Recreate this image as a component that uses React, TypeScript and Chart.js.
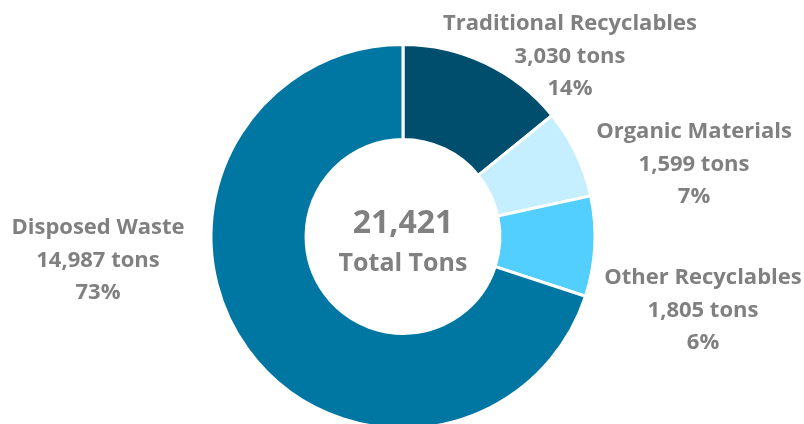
import React, { useEffect, useRef } from "react";
import { Chart, registerables } from "chart.js";

Chart.register(...registerables);

const categories = ["Traditional Recyclables", "Organic Materials", "Other Recyclables", "Disposed Waste"];
const tons = [3030, 1599, 1805, 14987];
const tonLabels = ["3,030 tons", "1,599 tons", "1,805 tons", "14,987 tons"];
const percentLabels = ["14%", "7%", "6%", "73%"];
const totalLabel = "21,421";
const totalCaption = "Total Tons";
const colors = ["#004E6E", "#C5EEFF", "#52CFFF", "#0076A3"];

const FONT = "'Open Sans', sans-serif";
const GREY = "#808080";

// label anchor offsets relative to donut center (style only)
const labelOffsets = [
  { dx: 167, dy: -180 },
  { dx: 291, dy: -72 },
  { dx: 300, dy: 74 },
  { dx: -305, dy: 24 },
];

const labelPlugin = {
  id: "labelPlugin",
  afterDraw(chart: any) {
    const ctx = chart.ctx;
    const meta = chart.getDatasetMeta(0);
    const arc = meta.data[0];
    const cx = arc.x;
    const cy = arc.y;
    ctx.save();
    ctx.fillStyle = GREY;
    ctx.textAlign = "center";
    ctx.textBaseline = "middle";
    ctx.font = `bold 32px ${FONT}`;
    ctx.fillText(totalLabel, cx, cy - 13);
    ctx.font = `bold 25px ${FONT}`;
    ctx.fillText(totalCaption, cx, cy + 27);
    ctx.font = `bold 22px ${FONT}`;
    categories.forEach((c, i) => {
      const o = labelOffsets[i];
      const x = cx + o.dx;
      const y = cy + o.dy;
      ctx.fillText(c, x, y - 33);
      ctx.fillText(tonLabels[i], x, y);
      ctx.fillText(percentLabels[i], x, y + 32);
    });
    ctx.restore();
  },
};

export default function App() {
  const ref = useRef<HTMLCanvasElement | null>(null);
  useEffect(() => {
    document.body.style.margin = "0";
    const chart = new Chart(ref.current as HTMLCanvasElement, {
      type: "doughnut",
      data: {
        labels: categories,
        datasets: [
          {
            data: tons,
            backgroundColor: colors,
            borderColor: "#ffffff",
            borderWidth: 3,
          },
        ],
      },
      options: {
        animation: false,
        responsive: false,
        cutout: "50.5%",
        layout: { padding: { top: 43, bottom: 10, left: 209.5, right: 207.5 } },
        plugins: { legend: { display: false }, tooltip: { enabled: false } },
      },
      plugins: [labelPlugin],
    });
    return () => chart.destroy();
  }, []);
  return (
    <div style={{ position: "absolute", left: 0, top: 0, width: 804, height: 424, overflow: "hidden", background: "#fff" }}>
      <canvas ref={ref} width={804} height={440} style={{ display: "block" }} />
    </div>
  );
}
